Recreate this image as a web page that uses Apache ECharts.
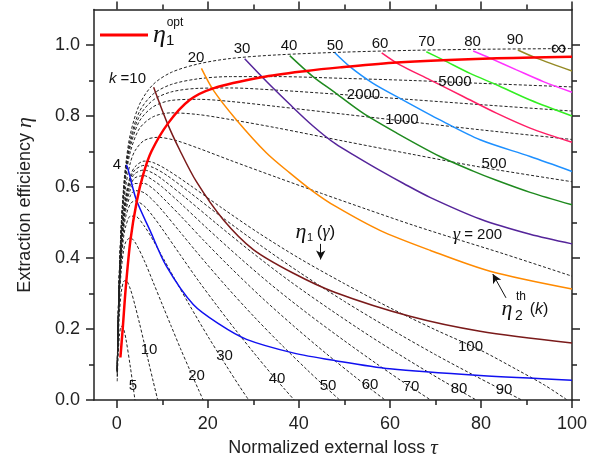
<!DOCTYPE html>
<html><head><meta charset="utf-8">
<script src="https://cdn.jsdelivr.net/npm/echarts@6/dist/echarts.min.js"></script>
<style>html,body{margin:0;padding:0;background:#fff}#c{width:608px;height:464px}</style>
</head><body><div id="c"></div>
<script>
// ---- tick labels ----
const xTicks = [0, 20, 40, 60, 80, 100];
const xMinor = [10, 30, 50, 70, 90];
const yTicks = [0, 0.2, 0.4, 0.6, 0.8, 1.0];
const yMinor = [0.1, 0.3, 0.5, 0.7, 0.9];

// ---- dashed curves eta1(gamma): [tau, eta] ----
const g5 = [[0.1,0.053],[0.3,0.126],[0.6,0.183],[1,0.208],[1.5,0.200],[2,0.173],[3,0.092],[4,0]];
const g10 = [[0.1,0.066],[0.3,0.161],[0.6,0.246],[1,0.305],[1.5,0.334],[2,0.337],[3,0.312],[4,0.267],[5,0.216],[6,0.162],[7,0.107],[8,0.053],[9,0]];
const g20 = [[0.1,0.074],[0.3,0.183],[0.6,0.288],[1,0.368],[1.5,0.421],[2,0.446],[3,0.457],[4,0.445],[6,0.394],[8,0.332],[10,0.269],[12,0.207],[14,0.145],[16,0.086],[18,0.028],[19,0]];
const g30 = [[0.1,0.077],[0.3,0.193],[0.6,0.306],[1,0.395],[1.5,0.458],[2,0.491],[3,0.518],[4,0.518],[6,0.491],[8,0.450],[10,0.404],[13,0.335],[16,0.267],[20,0.180],[24,0.098],[27,0.038],[29,0]];
const g40 = [[0.1,0.079],[0.3,0.198],[0.6,0.316],[1,0.411],[1.5,0.479],[2,0.518],[3,0.553],[4,0.561],[6,0.547],[8,0.517],[10,0.482],[14,0.408],[18,0.335],[22,0.266],[26,0.199],[30,0.135],[34,0.073],[37,0.029],[39,0]];
const g50 = [[0.1,0.081],[0.3,0.202],[0.6,0.323],[1,0.421],[1.5,0.493],[2,0.535],[3,0.576],[4,0.590],[6,0.584],[8,0.562],[10,0.534],[14,0.472],[18,0.410],[24,0.321],[30,0.237],[36,0.158],[42,0.083],[46,0.035],[49,0]];
const g60 = [[0.1,0.082],[0.3,0.205],[0.6,0.328],[1,0.429],[1.5,0.503],[2,0.547],[3,0.593],[4,0.610],[6,0.610],[8,0.595],[10,0.571],[14,0.519],[19,0.451],[25,0.373],[32,0.287],[39,0.207],[46,0.131],[52,0.069],[56,0.029],[59,0]];
const g70 = [[0.1,0.082],[0.3,0.207],[0.6,0.332],[1,0.434],[1.5,0.511],[2,0.557],[3,0.605],[4,0.626],[6,0.632],[8,0.619],[10,0.600],[14,0.554],[20,0.482],[27,0.401],[34,0.324],[42,0.243],[50,0.167],[57,0.103],[63,0.050],[66,0.025],[69,0]];
const g80 = [[0.1,0.083],[0.3,0.209],[0.6,0.335],[1,0.439],[1.5,0.517],[2,0.565],[3,0.616],[4,0.638],[6,0.648],[8,0.639],[10,0.622],[15,0.571],[22,0.496],[30,0.413],[38,0.335],[47,0.254],[56,0.177],[64,0.113],[71,0.059],[76,0.022],[79,0]];
const g90 = [[0.1,0.083],[0.3,0.210],[0.6,0.337],[1,0.443],[1.5,0.523],[2,0.571],[3,0.624],[4,0.648],[6,0.661],[8,0.655],[11,0.633],[16,0.585],[23,0.516],[31,0.441],[40,0.361],[50,0.278],[60,0.201],[70,0.128],[78,0.073],[84,0.033],[89,0]];
const g100 = [[0.1,0.084],[0.3,0.211],[0.6,0.339],[1,0.446],[1.5,0.527],[2,0.577],[3,0.632],[4,0.657],[6,0.673],[8,0.669],[11,0.649],[16,0.606],[23,0.542],[31,0.472],[40,0.400],[50,0.328],[60,0.260],[70,0.198],[80,0.140],[88,0.085],[94,0.042],[99,0]];
const g200 = [[0.1,0.086],[0.3,0.217],[0.6,0.350],[1,0.463],[1.5,0.550],[2,0.605],[3,0.669],[4,0.702],[6,0.731],[9,0.740],[13,0.731],[18,0.709],[25,0.675],[35,0.628],[45,0.582],[55,0.537],[65,0.493],[75,0.452],[85,0.412],[100,0.349]];
const g500 = [[0.1,0.088],[0.3,0.222],[0.6,0.360],[1,0.477],[1.5,0.569],[2,0.629],[3,0.700],[5,0.765],[8,0.798],[12,0.809],[18,0.804],[25,0.790],[35,0.767],[50,0.729],[65,0.692],[80,0.656],[100,0.615]];
const g1000 = [[0.1,0.089],[0.3,0.225],[0.6,0.364],[1,0.484],[1.5,0.578],[2,0.640],[3,0.715],[5,0.786],[8,0.826],[12,0.844],[18,0.847],[25,0.841],[35,0.827],[50,0.805],[65,0.783],[80,0.761],[100,0.734]];
const g2000 = [[0.1,0.089],[0.3,0.227],[0.6,0.368],[1,0.489],[1.5,0.585],[2,0.648],[3,0.726],[5,0.800],[8,0.845],[12,0.868],[18,0.878],[25,0.879],[35,0.873],[50,0.860],[65,0.846],[80,0.832],[100,0.814]];
const g5000 = [[0.1,0.090],[0.3,0.228],[0.6,0.370],[1,0.493],[1.5,0.590],[2,0.655],[3,0.735],[5,0.813],[8,0.862],[12,0.889],[18,0.905],[25,0.911],[35,0.911],[50,0.906],[65,0.900],[80,0.892],[100,0.882]];
const gInf = [[0.1,0.091],[0.3,0.231],[0.6,0.375],[1,0.5],[1.5,0.6],[2,0.667],[3,0.75],[5,0.833],[8,0.889],[12,0.923],[18,0.947],[25,0.962],[35,0.972],[50,0.980],[65,0.985],[80,0.988],[100,0.990]];

// ---- solid curves eta2_th(k) ----
const k4 = [[2.1,0.663],[2.5,0.649],[4.3,0.564],[7.3,0.478],[10.9,0.377],[16.8,0.269],[22.6,0.213],[28.5,0.171],[38.7,0.133],[48,0.111],[60,0.088],[79.8,0.069],[100,0.056]];
const k10 = [[8.1,0.881],[11.1,0.78],[13.8,0.705],[17.5,0.615],[23.4,0.508],[30,0.424],[38.7,0.358],[48,0.303],[64.4,0.236],[79.8,0.194],[100,0.161]];
const k20 = [[18.6,0.934],[21.2,0.873],[26.3,0.789],[32.9,0.696],[38,0.640],[43.1,0.588],[48,0.546],[57.8,0.478],[68.8,0.422],[82,0.363],[100,0.313]];
const k30 = [[28.1,0.961],[32.9,0.897],[38,0.833],[43.1,0.772],[48,0.722],[53,0.683],[57.8,0.647],[63,0.610],[68.8,0.571],[79.8,0.510],[90.8,0.467],[100,0.44]];
const k40 = [[38,0.97],[43.1,0.911],[47.5,0.87],[54.1,0.808],[61.5,0.752],[71,0.686],[78.3,0.645],[83.4,0.619],[90.8,0.585],[100,0.55]];
const k50 = [[47.9,0.978],[51.2,0.939],[56.3,0.892],[62.9,0.845],[71,0.789],[79.8,0.733],[90.8,0.686],[100,0.644]];
const k60 = [[58.2,0.978],[62.2,0.944],[68.8,0.902],[76.1,0.855],[83.4,0.808],[90.8,0.766],[100,0.726]];
const k70 = [[68,0.981],[71.7,0.958],[77.6,0.920],[83.4,0.888],[90.8,0.845],[100,0.80]];
const k80 = [[78.3,0.983],[82,0.963],[87.8,0.930],[93.7,0.897],[100,0.867]];
const k90 = [[88.1,0.986],[92.2,0.963],[100,0.927]];

// ---- optimum curve eta1_opt ----
const opt = [[0.8,0.12],[1.3,0.2],[2.0,0.32],[3.0,0.45],[4.4,0.56],[5.8,0.635],[7.6,0.70],[11.3,0.78],[16,0.845],[21.2,0.878],[31.8,0.909],[41.7,0.927],[49,0.937],[61.5,0.951],[82,0.962],[100,0.967]];

const dashed = [g5,g10,g20,g30,g40,g50,g60,g70,g80,g90,g100,g200,g500,g1000,g2000,g5000,gInf];
const solid = [k4,k10,k20,k30,k40,k50,k60,k70,k80,k90];
const solidColors = ['#1010F0','#7A1A1A','#FF8A00','#55259A','#1F8A1F','#1E90FF','#FF1F66','#33EE22','#FF33FF','#958A25'];

const FS = 'Liberation Sans';
const chart = echarts.init(document.getElementById('c'));
const series = [];
dashed.forEach((d,i)=>series.push({type:'line',data:d,symbol:'none',smooth:0.3,silent:true,z:2,
  lineStyle:{color:'#222',width:1,type:[3,2]}}));
solid.forEach((d,i)=>series.push({type:'line',data:d,symbol:'none',smooth:0.3,silent:true,z:3,
  lineStyle:{color:solidColors[i],width:1.5}}));
series.push({name:'opt',type:'line',data:opt,symbol:'none',smooth:0.3,silent:true,z:4,
  color:'#FF0000',lineStyle:{color:'#FF0000',width:2.5},
  markLine:{silent:true,symbol:['none','arrow'],symbolSize:[7,9],label:{show:false},
    lineStyle:{color:'#111',width:1,type:'solid'},
    data:[[{coord:[44.8,0.44]},{coord:[44.8,0.396]}],[{coord:[85.5,0.288]},{coord:[82.6,0.355]}]]}});

const axisCommon = {type:'value',min:-5,max:100,splitLine:{show:false},
  axisLine:{show:true,onZero:false,lineStyle:{color:'#222',width:1.5}}};
const yCommon = {type:'value',min:0,max:1.1,splitLine:{show:false},
  axisLine:{show:true,onZero:false,lineStyle:{color:'#222',width:1.5}}};
const tickStyle = {color:'#222',width:1.5};

function t(x,y,text,extra){return Object.assign({type:'text',x:x,y:y,z:100,style:Object.assign({text:text,fontFamily:FS,fontSize:15,fill:'#111',align:'center',verticalAlign:'middle'},extra||{})});}
const eta = {fontFamily:'Liberation Serif',fontStyle:'italic'};
const greek = {g:{fontStyle:'italic',fontFamily:'Liberation Serif',fontSize:18}};

chart.setOption({
  animation:false,
  backgroundColor:'#fff',
  grid:{left:94,right:36,top:9.5,bottom:63,containLabel:false},
  legend:{left:100,top:22,padding:0,itemWidth:48,itemHeight:3,itemGap:4,
    data:[{name:'opt',icon:'rect'}],
    formatter:()=>'{e|η}{s|1}',
    textStyle:{rich:{e:{fontFamily:'Liberation Serif',fontStyle:'italic',fontSize:26,color:'#111',lineHeight:26},
                     s:{fontFamily:FS,fontSize:15,color:'#111',verticalAlign:'bottom',lineHeight:15}}}},
  xAxis:[
    Object.assign({},axisCommon,{position:'bottom',
      axisTick:{show:true,customValues:xTicks,length:8,lineStyle:tickStyle},
      axisLabel:{show:true,customValues:xTicks,margin:15,fontSize:18,fontFamily:FS,color:'#222'},
      name:'Normalized external loss {t|τ}',nameLocation:'middle',nameGap:36,
      nameTextStyle:{fontSize:18,fontFamily:FS,color:'#222',rich:{t:{fontSize:21,fontFamily:'Liberation Serif',fontStyle:'italic',color:'#222'}}}}),
    Object.assign({},axisCommon,{position:'bottom',axisLine:{show:false,onZero:false},
      axisTick:{show:true,customValues:xMinor,length:5,lineStyle:tickStyle},axisLabel:{show:false}}),
    Object.assign({},axisCommon,{position:'top',
      axisTick:{show:true,customValues:xTicks,length:8,lineStyle:tickStyle},axisLabel:{show:false}}),
    Object.assign({},axisCommon,{position:'top',axisLine:{show:false,onZero:false},
      axisTick:{show:true,customValues:xMinor,length:5,lineStyle:tickStyle},axisLabel:{show:false}})
  ],
  yAxis:[
    Object.assign({},yCommon,{position:'left',
      axisTick:{show:true,customValues:yTicks,length:8,lineStyle:tickStyle},
      axisLabel:{show:true,customValues:yTicks,margin:14,fontSize:18,fontFamily:FS,color:'#222',formatter:v=>v.toFixed(1)},
      name:'Extraction efficiency {e|η}',nameLocation:'middle',nameGap:58,nameRotate:90,
      nameTextStyle:{fontSize:18,fontFamily:FS,color:'#222',rich:{e:{fontSize:22,fontFamily:'Liberation Serif',fontStyle:'italic',color:'#222'}}}}),
    Object.assign({},yCommon,{position:'left',axisLine:{show:false,onZero:false},
      axisTick:{show:true,customValues:yMinor,length:5,lineStyle:tickStyle},axisLabel:{show:false}}),
    Object.assign({},yCommon,{position:'right',
      axisTick:{show:true,customValues:yTicks,length:8,lineStyle:tickStyle},axisLabel:{show:false}}),
    Object.assign({},yCommon,{position:'right',axisLine:{show:false,onZero:false},
      axisTick:{show:true,customValues:yMinor,length:5,lineStyle:tickStyle},axisLabel:{show:false}})
  ],
  series:series,
  graphic:[
    t(175,23,'opt',{fontSize:12}),
    t(127.5,79,'{i|k} =10',{rich:{i:{fontStyle:'italic',fontFamily:FS,fontSize:15}}}),
    t(196,58,'20'),t(242,49,'30'),t(289,46,'40'),t(335,46,'50'),t(380,43.5,'60'),
    t(426.5,41.5,'70'),t(472.5,41.5,'80'),t(515,40,'90'),t(558.5,49,'∞',{fontSize:22}),
    t(455,81.5,'5000'),t(363.5,95,'2000'),t(402,120,'1000'),t(494,164,'500'),
    t(477.5,235,'{g|γ} = 200',{rich:greek}),
    t(470.5,346.5,'100'),t(117,165,'4'),
    t(133,386,'5'),t(149,350,'10'),t(196.5,375.5,'20'),t(224.5,355.5,'30'),t(277,378.5,'40'),
    t(328,385.5,'50'),t(370,385,'60'),t(411,386.5,'70'),t(459,388.5,'80'),t(504,390,'90'),
    t(301,232,'η',Object.assign({fontSize:22},eta)),t(310,238,'1',{fontSize:11}),
    t(326,232,'({g|γ})',{fontSize:17,rich:greek}),
    t(507,309,'η',Object.assign({fontSize:22},eta)),t(519,316,'2',{fontSize:14}),
    t(521,297,'th',{fontSize:12}),t(539,310,'({i|k})',{fontSize:16,rich:{i:{fontStyle:'italic',fontFamily:FS,fontSize:16}}})
  ]
});
</script></body></html>
